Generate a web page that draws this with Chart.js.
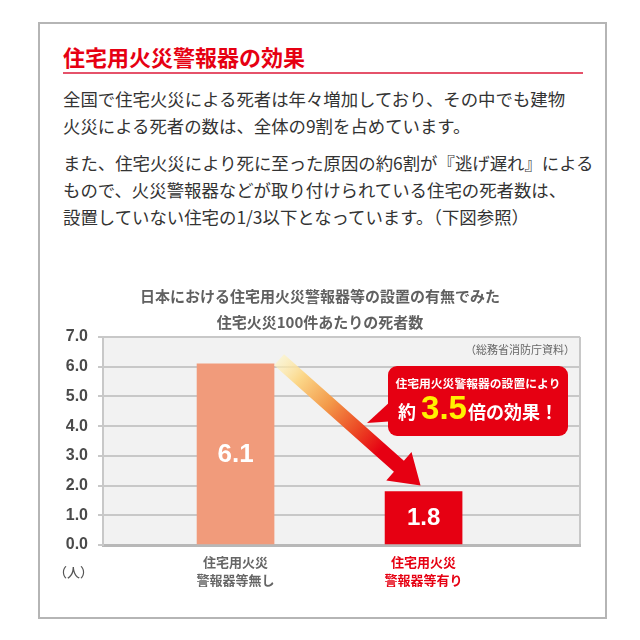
<!DOCTYPE html>
<html lang="ja">
<head>
<meta charset="utf-8">
<script src="https://cdn.jsdelivr.net/npm/chart.js@4.4.1/dist/chart.umd.min.js"></script>
<style>
  body { margin: 0; width: 640px; height: 640px; background: #fff; position: relative; overflow: hidden;
         font-family: 'Noto Sans CJK JP', sans-serif; }
  #frame { position: absolute; left: 38px; top: 22px; width: 569px; height: 597px; box-sizing: border-box; border: 2px solid #b5b5b5; }
  h1 { position: absolute; left: 63px; top: 41px; margin: 0; font-size: 22px; line-height: 30px; font-weight: bold; color: #e60012; white-space: nowrap; }
  #rule { position: absolute; left: 63px; top: 72px; width: 520px; height: 2px; background: #e5526a; }
  .txt { position: absolute; left: 63px; margin: 0; font-size: 17.4px; line-height: 27px; color: #333; white-space: nowrap; }
  #p1 { top: 84.5px; }
  #p2 { top: 148.5px; }
  #wrap { position: absolute; left: 40px; top: 270px; width: 560px; height: 340px; }
</style>
</head>
<body>
<div id="frame"></div>
<h1>住宅用火災警報器の効果</h1>
<div id="rule"></div>
<p class="txt" id="p1">全国で住宅火災による死者は年々増加しており、その中でも建物<br>火災による死者の数は、全体の9割を占めています。</p>
<p class="txt" id="p2">また、住宅火災により死に至った原因の約6割が『逃げ遅れ』による<br>もので、火災警報器などが取り付けられている住宅の死者数は、<br>設置していない住宅の1/3以下となっています。（下図参照）</p>
<div id="wrap"><canvas id="myChart" width="560" height="340"></canvas></div>
<script>
// データ
const categories = [['住宅用火災', '警報器等無し'], ['住宅用火災', '警報器等有り']];
const deaths = [6.1, 1.8];
const barColors = ['#f19b7b', '#e60012'];
const labelColors = ['#666666', '#e60012'];
const yMin = 0, yMax = 7, yStep = 1;
const chartTitle = ['日本における住宅用火災警報器等の設置の有無でみた', '住宅火災100件あたりの死者数'];
const sourceNote = '（総務省消防庁資料）';
const unitLabel = '（人）';
const calloutLine1 = '住宅用火災警報器の設置により';
const calloutLine2 = ['約', '3.5', '倍の効果！'];

const JP = "'Noto Sans CJK JP', sans-serif";
const NUM = "'Liberation Sans', Arial, 'Noto Sans CJK JP', sans-serif";

// グラフ背景と右枠
const plotBg = {
    id: 'plotBg',
    beforeDraw(chart) {
        const { ctx, chartArea: a } = chart;
        ctx.save();
        ctx.fillStyle = '#f2f2f2';
        ctx.fillRect(a.left, a.top, a.right - a.left, a.bottom - a.top);
        ctx.strokeStyle = '#c8c8c8';
        ctx.lineWidth = 2;
        ctx.beginPath();
        ctx.moveTo(a.right, a.top);
        ctx.lineTo(a.right, a.bottom);
        ctx.stroke();
        ctx.restore();
    }
};

// 数値ラベル・矢印・吹き出し
const extras = {
    id: 'extras',
    afterDatasetsDraw(chart) {
        const { ctx, chartArea: a } = chart;
        const bars = chart.getDatasetMeta(0).data;

        ctx.save();
        ctx.fillStyle = '#fff';
        ctx.textAlign = 'center';
        ctx.textBaseline = 'middle';
        bars.forEach((b, i) => {
            ctx.font = 'bold ' + (i === 0 ? 26 : 24) + 'px ' + NUM;
            ctx.fillText(deaths[i].toFixed(1), b.x, (b.y + b.base) / 2 + 1);
        });
        ctx.restore();

        // 矢印
        const b1 = bars[0], b2 = bars[1];
        const sx = b1.x + b1.width / 2 + 5, sy = b1.y - 4;
        const tx = b2.x - 3, ty = b2.y - 6;
        const len = Math.hypot(tx - sx, ty - sy);
        ctx.save();
        ctx.translate(sx, sy);
        ctx.rotate(Math.atan2(ty - sy, tx - sx));
        const g = ctx.createLinearGradient(0, 0, len, 0);
        g.addColorStop(0, 'rgba(255,244,190,0.6)');
        g.addColorStop(0.15, '#fbd789');
        g.addColorStop(0.35, '#f39a4a');
        g.addColorStop(0.55, '#ec4a25');
        g.addColorStop(0.72, '#e60012');
        g.addColorStop(1, '#e60012');
        ctx.fillStyle = g;
        const hw = 7.5, hl = 29, hh = 19;
        ctx.beginPath();
        ctx.moveTo(0, -hw);
        ctx.lineTo(len - hl, -hw);
        ctx.lineTo(len - hl, -hh);
        ctx.lineTo(len, 0);
        ctx.lineTo(len - hl, hh);
        ctx.lineTo(len - hl, hw);
        ctx.lineTo(0, hw);
        ctx.closePath();
        ctx.fill();
        ctx.restore();

        // 吹き出し
        const bx = a.right - 192, by = a.top + 29, bw = 180, bh = 70;
        ctx.save();
        ctx.fillStyle = '#e60012';
        ctx.beginPath();
        ctx.roundRect(bx, by, bw, bh, 9);
        ctx.fill();
        ctx.beginPath();
        ctx.moveTo(bx + 4, by + 34);
        ctx.lineTo(bx - 21, by + 57);
        ctx.lineTo(bx + 8, by + 55);
        ctx.closePath();
        ctx.fill();

        ctx.fillStyle = '#fff';
        ctx.textAlign = 'center';
        ctx.textBaseline = 'middle';
        ctx.font = 'bold 11.8px ' + JP;
        ctx.fillText(calloutLine1, bx + bw / 2, by + 18);

        const fonts = ['bold 18px ' + JP, 'bold 33px ' + NUM, 'bold 18px ' + JP];
        const gaps = [5, 1, 0];
        let total = 0;
        const widths = calloutLine2.map((t, i) => {
            ctx.font = fonts[i];
            const w = ctx.measureText(t).width;
            total += w + gaps[i];
            return w;
        });
        let x = bx + bw / 2 - total / 2;
        ctx.textAlign = 'left';
        ctx.textBaseline = 'alphabetic';
        calloutLine2.forEach((t, i) => {
            ctx.font = fonts[i];
            ctx.fillStyle = i === 1 ? '#fff100' : '#fff';
            ctx.fillText(t, x, by + 53);
            x += widths[i] + gaps[i];
        });
        ctx.restore();

        // 出典・単位
        ctx.save();
        ctx.fillStyle = '#666';
        ctx.font = '11px ' + JP;
        ctx.textAlign = 'right';
        ctx.textBaseline = 'middle';
        ctx.fillText(sourceNote, a.right - 5, a.top + 13);
        ctx.fillStyle = '#555';
        ctx.font = '500 13px ' + JP;
        ctx.textAlign = 'center';
        ctx.fillText(unitLabel, 33.5, a.bottom + 27);
        ctx.restore();
    }
};

const data = {
    datasets: [{
        data: deaths.map((v, i) => ({ x: i + 1, y: v })),
        backgroundColor: barColors,
        borderWidth: 0,
        barThickness: 77
    }]
};

const config = {
    type: 'bar',
    data: data,
    options: {
        responsive: false,
        animation: false,
        layout: { padding: { left: 20, right: 20, top: 0, bottom: 0 } },
        plugins: {
            legend: { display: false },
            tooltip: { enabled: false },
            title: {
                display: true,
                text: chartTitle,
                color: '#606060',
                font: { family: JP, size: 15, weight: 'bold', lineHeight: 26 / 15 },
                padding: { top: 13, bottom: 2 }
            }
        },
        scales: {
            x: {
                type: 'linear',
                offset: false,
                bounds: 'data',
                min: 0.295,
                max: 2.832,
                grid: { display: false, drawTicks: false, offset: false },
                border: { display: true, color: '#b8b8b8', width: 3 },
                afterBuildTicks: axis => { axis.ticks = categories.map((c, i) => ({ value: i + 1 })); },
                afterFit: axis => { axis.height = 65; },
                ticks: {
                    autoSkip: false,
                    maxRotation: 0,
                    padding: 8.5,
                    callback: v => categories[v - 1],
                    color: ctx => labelColors[ctx.index],
                    font: { family: JP, size: 13, weight: 'bold', lineHeight: 17.5 / 13 }
                }
            },
            y: {
                min: yMin,
                max: yMax,
                grid: { color: '#c8c8c8', lineWidth: 2, tickLength: 5 },
                border: { display: true, color: '#c8c8c8', width: 2 },
                afterFit: axis => { axis.width = 43; },
                ticks: {
                    stepSize: yStep,
                    padding: 10,
                    color: '#4a4a4a',
                    callback: v => v.toFixed(1),
                    font: { family: NUM, size: 16, weight: 'bold' }
                }
            }
        }
    },
    plugins: [plotBg, extras]
};

const myChart = new Chart(document.getElementById('myChart'), config);
</script>
</body>
</html>
